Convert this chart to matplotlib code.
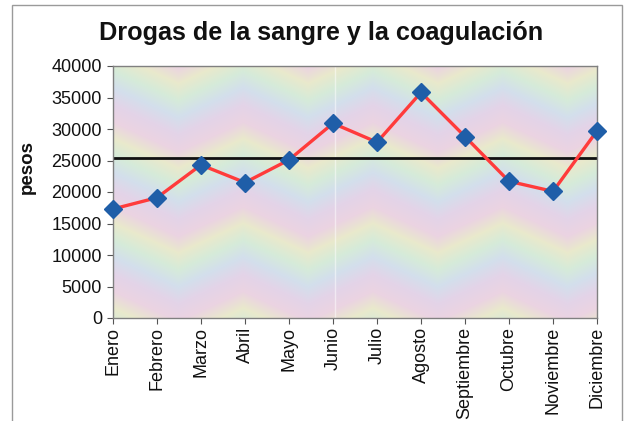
import numpy as np
import matplotlib.pyplot as plt
from matplotlib.colors import LinearSegmentedColormap
from matplotlib.patches import Rectangle

plt.rcParams['font.family'] = ['Liberation Sans', 'DejaVu Sans']

# datos
meses = ["Enero", "Febrero", "Marzo", "Abril", "Mayo", "Junio", "Julio",
         "Agosto", "Septiembre", "Octubre", "Noviembre", "Diciembre"]
pesos = [17300, 19100, 24300, 21500, 25100, 30900, 27900,
         35800, 28800, 21700, 20100, 29700]
promedio = 25400
yticks = [0, 5000, 10000, 15000, 20000, 25000, 30000, 35000, 40000]

fig = plt.figure(figsize=(6.28, 4.21), dpi=100)
W, H = 628, 421
ax = fig.add_axes([113 / W, 1 - 318 / H, (597 - 113) / W, (318 - 66) / H])

# fondo pastel en zigzag (textura decorativa)
pastel = LinearSegmentedColormap.from_list(
    "pastel", ["#ebd3e2", "#e9e9cc", "#d6ebd9", "#d3dfec", "#e3d4e8", "#ebd3e2"])
xx, yy = np.meshgrid(np.linspace(0, 484, 484), np.linspace(0, 252, 252))
tri = np.abs(((xx / 130.0) % 1.0) - 0.5) * 2
fase = ((yy / 85.0) + 0.35 * tri) % 1.0
ax.imshow(fase, cmap=pastel, extent=[0.0, 11.0, 0, 40000], aspect="auto",
          origin="upper", zorder=0, interpolation="bilinear")
ax.axvline(5.05, color="white", lw=1.0, alpha=0.5, zorder=1)

ax.axhline(promedio, color="#111111", lw=2.0, zorder=2)
ax.plot(range(len(meses)), pesos, color="#ff3b3b", lw=2.4, zorder=3,
        marker="D", markersize=9, markerfacecolor="#1f5ea8",
        markeredgecolor="#1f5ea8", clip_on=False)

ax.set_xlim(0, 11)
ax.set_ylim(0, 40000)
ax.set_yticks(yticks)
ax.set_xticks(range(len(meses)))
ax.set_xticklabels(meses, rotation=90)
ax.tick_params(labelsize=13, length=4, pad=2.5, color="#555555", labelcolor="#111111")
ax.tick_params(axis="y", pad=4)
for s in ax.spines.values():
    s.set_color("#808080")
    s.set_linewidth(1.0)

fig.text(321 / W, 1 - 33 / H, "Drogas de la sangre y la coagulación",
         ha="center", va="center", fontsize=18.2, fontweight="bold", color="#111111")
fig.text(27.5 / W, 1 - 167 / H, "pesos", ha="center", va="center", rotation=90,
         fontsize=13.5, fontweight="bold", color="#111111")

fig.patches.append(Rectangle((12 / W, -0.05), (622 - 12) / W, 1.05 - 5 / H,
                             transform=fig.transFigure, fill=False,
                             edgecolor="#9a9a9a", lw=1.0))

fig.savefig("out.png", dpi=100)
